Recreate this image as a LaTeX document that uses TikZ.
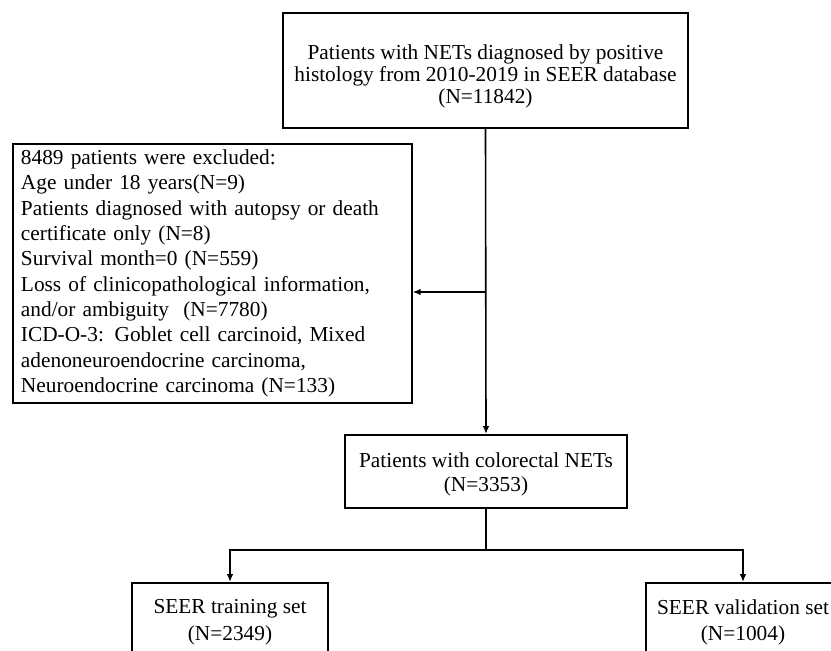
\documentclass[tikz,border=0pt]{standalone}
\usepackage{fontspec}
\setmainfont{Liberation Serif}
\usetikzlibrary{arrows.meta,positioning}

\begin{document}
\begin{tikzpicture}[x=0.75pt,y=-0.75pt,
    box/.style={draw,line width=1.5pt,inner sep=6pt,font=\fontsize{16}{16.5}\selectfont,align=center},
    flow/.style={line width=1.2pt,-{Latex[length=6pt,width=5pt]}}]
        \useasboundingbox (0,0) rectangle (831,650);
        \clip (0,0) rectangle (831,650);
        \node[box,minimum width=303.75pt,minimum height=86.25pt] (source) at (485.5,70.5)
          {\rule{0pt}{20pt}Patients with NETs diagnosed by positive\\histology from 2010-2019 in SEER database\\(N=11842)};
        \node[box,anchor=north west,align=left,text width=287pt,inner ysep=4pt,minimum height=194.25pt,
          font=\fontsize{16}{19}\selectfont] (excluded) at (12,143)
          {8489 patients were excluded:\\Age under 18 years(N=9)\\Patients diagnosed with autopsy or death\\
           certificate only (N=8)\\Survival month=0 (N=559)\\Loss of clinicopathological information,\\
           and/or ambiguity~~(N=7780)\\ICD-O-3: Goblet cell carcinoid, Mixed\\
           adenoneuroendocrine carcinoma,\\Neuroendocrine carcinoma (N=133)};
        \node[box,minimum width=211.5pt,minimum height=54.75pt,font=\fontsize{16}{18}\selectfont] (colorectal) at (486,471.5)
          {\rule{0pt}{15pt}Patients with colorectal NETs\\(N=3353)};
        \node[box,minimum width=147pt,minimum height=59.25pt,font=\fontsize{16}{20}\selectfont] (training) at (230,622.5)
          {SEER training set\\(N=2349)};
        \node[box,minimum width=145.5pt,minimum height=59.25pt,font=\fontsize{16}{20}\selectfont] (validation) at (743,622.5)
          {SEER validation set\\(N=1004)};
        \coordinate (branch) at (486,292);
        \coordinate (split) at (486,550);
        \draw[flow] (source.south) -- (colorectal.north);
        \draw[flow] (branch) -- (branch -| excluded.east);
        \draw[line width=1.2pt] (colorectal.south) -- (split);
        \draw[flow] (split) -| (training.north);
        \draw[flow] (split) -| (validation.north);
      \end{tikzpicture}
\end{document}
